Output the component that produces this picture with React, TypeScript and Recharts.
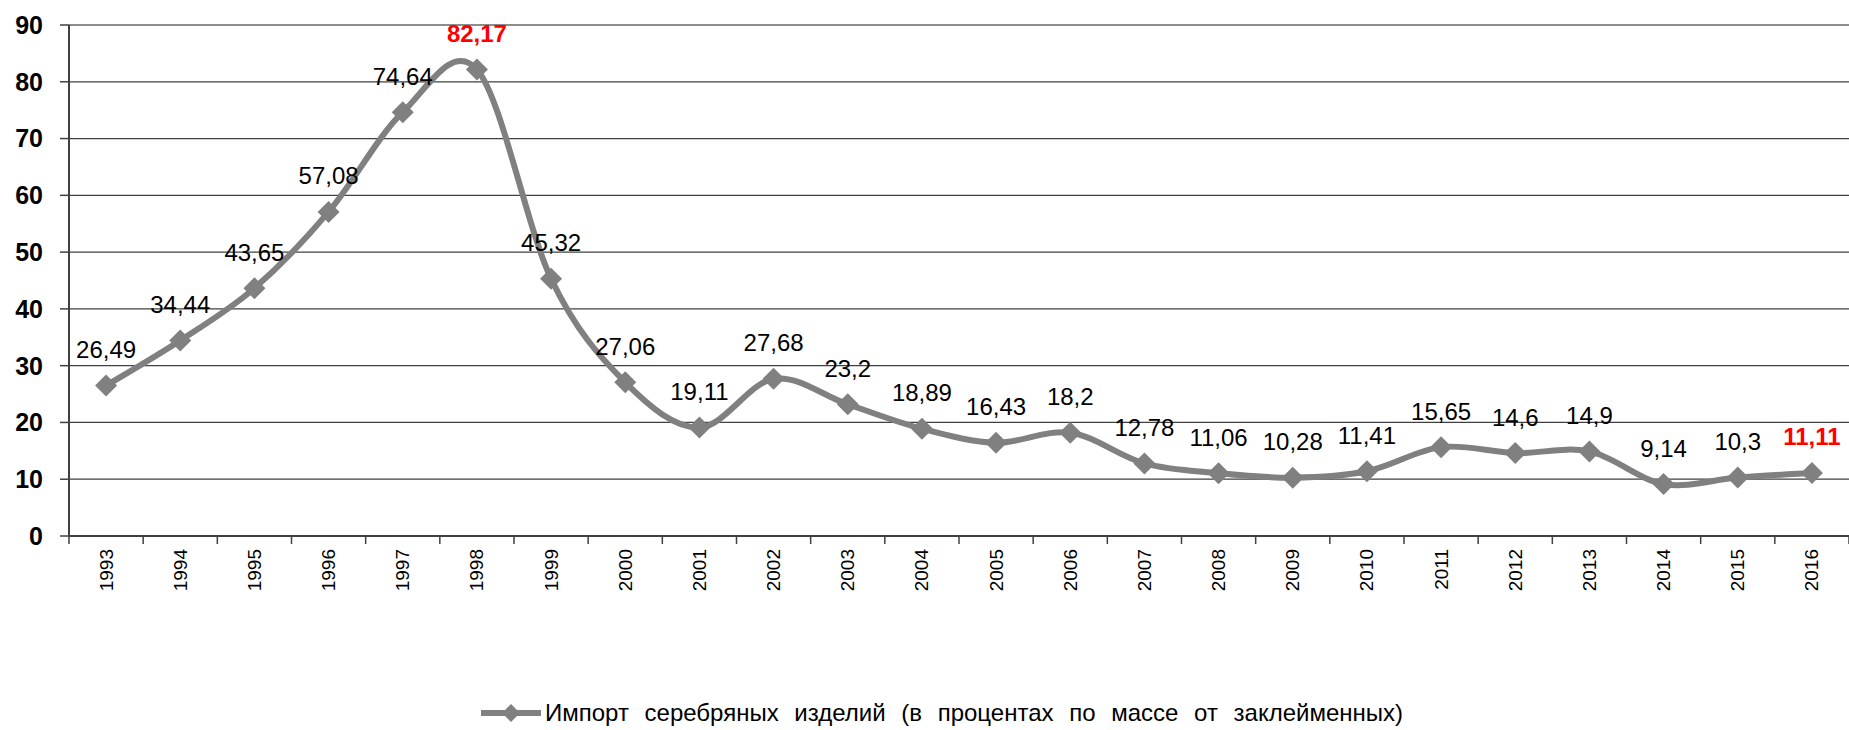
import React from 'react'
import { LineChart, Line, XAxis, YAxis, CartesianGrid, LabelList, ReferenceLine } from 'recharts'

// ── Data ─────────────────────────────────────────────────────────────────────

const years = ['1993', '1994', '1995', '1996', '1997', '1998', '1999', '2000', '2001', '2002', '2003', '2004',
  '2005', '2006', '2007', '2008', '2009', '2010', '2011', '2012', '2013', '2014', '2015', '2016']
const importShare = [26.49, 34.44, 43.65, 57.08, 74.64, 82.17, 45.32, 27.06, 19.11, 27.68, 23.2, 18.89,
  16.43, 18.2, 12.78, 11.06, 10.28, 11.41, 15.65, 14.6, 14.9, 9.14, 10.3, 11.11]
const highlighted = ['1998', '2016']
const yTicks = [0, 10, 20, 30, 40, 50, 60, 70, 80, 90]
const seriesName = 'Импорт серебряных изделий (в процентах по массе от заклейменных)'

const data = years.map((year, i) => ({ year, value: importShare[i] }))

const FONT = '"Liberation Sans", Arial, sans-serif'
const LINE = '#808080'
const W = 1849
const H = 730

// ── Excel-like smoothing (bezier through points, 1/6 tangents) ──────────────

function excelSmooth(context: any) {
  let pts: [number, number][] = []
  return {
    areaStart() {},
    areaEnd() {},
    lineStart() { pts = [] },
    point(x: number, y: number) { pts.push([+x, +y]) },
    lineEnd() {
      if (!pts.length) return
      context.moveTo(pts[0][0], pts[0][1])
      for (let i = 0; i < pts.length - 1; i++) {
        const p0 = pts[i - 1] || pts[i]
        const p1 = pts[i]
        const p2 = pts[i + 1]
        const p3 = pts[i + 2] || p2
        context.bezierCurveTo(
          p1[0] + (p2[0] - p0[0]) / 6, p1[1] + (p2[1] - p0[1]) / 6,
          p2[0] - (p3[0] - p1[0]) / 6, p2[1] - (p3[1] - p1[1]) / 6,
          p2[0], p2[1],
        )
      }
    },
  }
}

// ── Pieces ───────────────────────────────────────────────────────────────────

function Diamond({ cx, cy }: any) {
  if (cx == null || cy == null) return null
  const r = 11
  return <polygon points={`${cx},${cy - r} ${cx + r},${cy} ${cx},${cy + r} ${cx - r},${cy}`} fill={LINE} />
}

function ValueLabel({ x, y, value, index }: any) {
  const hot = highlighted.includes(years[index])
  return (
    <text x={x} y={y - 36} textAnchor="middle" dominantBaseline="central"
      style={{ fontFamily: FONT, fontSize: 24, fontWeight: hot ? 700 : 400, fill: hot ? '#FF0000' : '#000' }}>
      {String(value).replace('.', ',')}
    </text>
  )
}

function YearTick({ x, y, payload, index, width, visibleTicksCount }: any) {
  const bw = width / visibleTicksCount
  const last = index === visibleTicksCount - 1
  return (
    <g>
      <line x1={x - bw / 2} y1={y} x2={x - bw / 2} y2={y + 8} stroke="#404040" strokeWidth={1.5} />
      {last && <line x1={x + bw / 2} y1={y} x2={x + bw / 2} y2={y + 8} stroke="#404040" strokeWidth={1.5} />}
      <text transform={`translate(${x},${y + 13}) rotate(-90)`} textAnchor="end" dominantBaseline="central"
        style={{ fontFamily: FONT, fontSize: 19, fill: '#000' }}>
        {payload.value}
      </text>
    </g>
  )
}

function LegendRow() {
  return (
    <div style={{
      position: 'absolute', left: 480, top: 699, display: 'flex', alignItems: 'center', whiteSpace: 'nowrap',
      fontFamily: FONT, fontSize: 24, lineHeight: '28px', color: '#000', wordSpacing: 9,
    }}>
      <svg width={62} height={22} style={{ marginRight: 3 }}>
        <line x1={1} y1={11} x2={61} y2={11} stroke={LINE} strokeWidth={6} />
        <polygon points="31,2 40,11 31,20 22,11" fill={LINE} />
      </svg>
      <span>{seriesName}</span>
    </div>
  )
}

// ── Chart ────────────────────────────────────────────────────────────────────

export default function App() {
  return (
    <div style={{ position: 'absolute', left: 0, top: 0, width: W, height: H, background: '#fff' }}>
      <LineChart width={W} height={H} data={data} margin={{ top: 25, right: 0, bottom: 0, left: 0 }}>
        <CartesianGrid vertical={false} stroke="#404040" strokeWidth={1.3} />
        <ReferenceLine y={90} stroke="#8c8c8c" strokeWidth={2} />
        <XAxis dataKey="year" scale="band" height={194} interval={0} tickSize={0} tickMargin={0}
          axisLine={{ stroke: '#404040', strokeWidth: 2 }} tickLine={false} tick={<YearTick />} />
        <YAxis width={69} domain={[0, 90]} ticks={yTicks} interval={0} tickSize={9} tickMargin={17}
          axisLine={{ stroke: '#404040', strokeWidth: 2 }} tickLine={{ stroke: '#404040', strokeWidth: 1.5 }}
          tick={{ fontFamily: FONT, fontSize: 25, fontWeight: 700, fill: '#000' }} />
        <Line dataKey="value" type={excelSmooth as any} stroke={LINE} strokeWidth={6}
          dot={<Diamond />} activeDot={false} isAnimationActive={false}>
          <LabelList dataKey="value" content={<ValueLabel />} />
        </Line>
      </LineChart>
      <LegendRow />
    </div>
  )
}
